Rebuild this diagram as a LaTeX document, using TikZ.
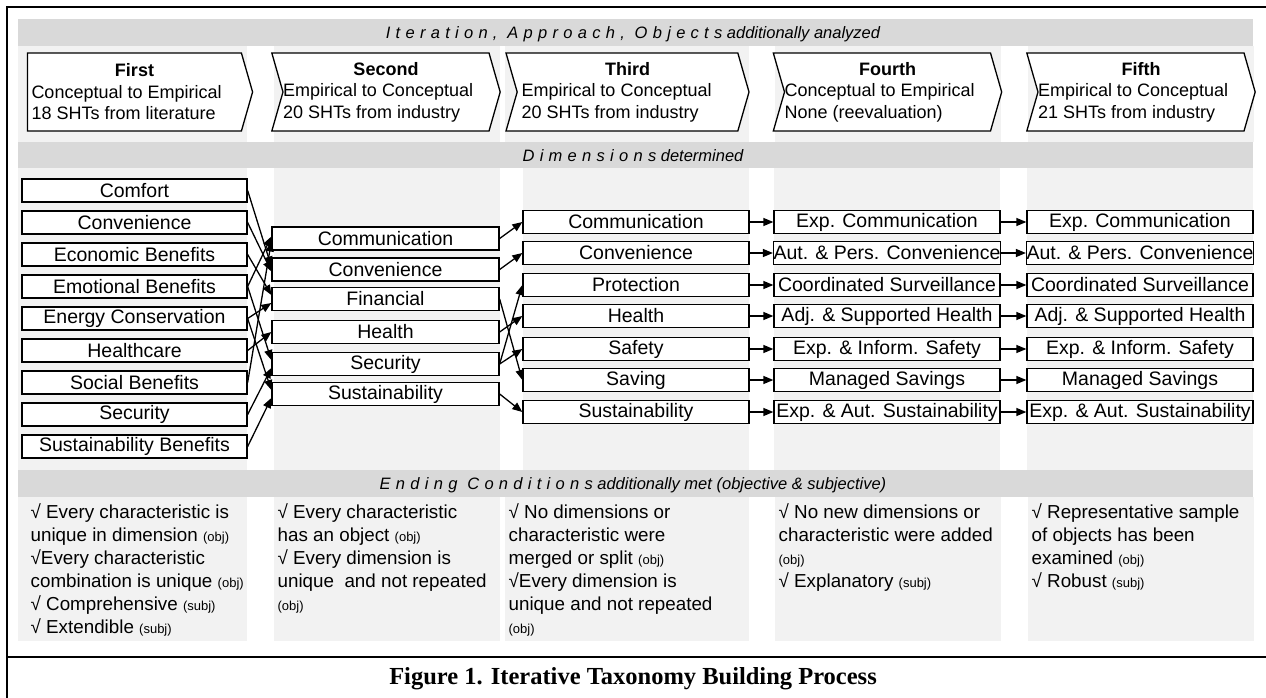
\documentclass[tikz,border=0pt]{standalone}
\usepackage{fontspec}
\setmainfont{Liberation Sans}
\newfontfamily\capfont{Liberation Serif}
\usetikzlibrary{arrows.meta,shapes.symbols}

\definecolor{bandgray}{HTML}{D9D9D9}
\definecolor{colgray}{HTML}{F2F2F2}
\newcommand{\crit}[1]{{\fontsize{13}{23}\selectfont #1}}
\newcommand{\spread}[1]{{\addfontfeature{LetterSpace=32}#1}}

\begin{document}
\begin{tikzpicture}[x = 1pt, y = -1pt, line width = 1.3pt,
		bandtxt/.style = {anchor = base, inner sep = 0pt,
			font = \fontsize{16.5}{18}\selectfont\itshape},
		chev/.style = {signal, draw, fill = white, signal to = east,
			signal pointer angle = 148, minimum width = 225,
			minimum height = 78, inner sep = 0pt, align = left,
			font = \fontsize{18}{21.5}\selectfont},
		dimbox/.style = {draw, fill = white, minimum width = 225,
			minimum height = 23, inner sep = 0pt,
			font = \fontsize{19.5}{20}\selectfont},
		crits/.style = {anchor = north west, inner sep = 0pt, align = left,
			font = \fontsize{18.8}{23}\selectfont},
		arr/.style = {-{Triangle[length = 10pt, width = 8pt]}}]

	\useasboundingbox (0,0) rectangle (1266,698);

	% bands and columns
	\fill[bandgray] (18,19) rectangle (1253,46);
	\fill[bandgray] (18,142) rectangle (1253,168);
	\fill[bandgray] (18,470) rectangle (1253,497);
	\foreach \a/\b in {18/247, 274/500, 505/749, 775/1001, 1028/1254}
	{
		\fill[colgray] (\a,46) rectangle (\b,142);
		\fill[colgray] (\a,497) rectangle (\b,641);
	}
	\foreach \a/\b in {18/247, 274/500, 523/749, 774/1000, 1027/1253}
		\fill[colgray] (\a,168) rectangle (\b,470);

	\node[bandtxt] (hdr) at (633,38.5)
		{\spread{Iteration, Approach, Objects} additionally analyzed};
	\node[bandtxt] (dimhdr) at (633,161)
		{\spread{Dimensions} determined};
	\node[bandtxt] (endhdr) at (633,489.5)
		{\spread{Ending Conditions} additionally met (objective \& subjective)};

	% iterations
	\node[chev] (it1) at (134.5,92) {\makebox[206pt]{\textbf{First}}\\
		Conceptual to Empirical\\18 SHTs from literature};
	\node[chev, signal from = west, minimum width = 226] (it2) at (386,92)
		{\makebox[206pt]{\textbf{Second}}\\Empirical to Conceptual\\20 SHTs from industry};
	\node[chev, signal from = west, minimum width = 243] (it3) at (627.5,92)
		{\makebox[212pt]{\textbf{Third}}\\Empirical to Conceptual\\20 SHTs from industry};
	\node[chev, signal from = west] (it4) at (887.5,92)
		{\makebox[206pt]{\textbf{Fourth}}\\Conceptual to Empirical\\None (reevaluation)};
	\node[chev, signal from = west, minimum width = 226] (it5) at (1141,92)
		{\makebox[206pt]{\textbf{Fifth}}\\Empirical to Conceptual\\21 SHTs from industry};

	% first iteration
	\node[dimbox] (d1com) at (134.5,190.5) {Comfort};
	\node[dimbox] (d1con) at (134.5,222.5) {Convenience};
	\node[dimbox] (d1eco) at (134.5,254.5) {Economic Benefits};
	\node[dimbox] (d1emo) at (134.5,286.5) {Emotional Benefits};
	\node[dimbox] (d1ene) at (134.5,318.5) {Energy Conservation};
	\node[dimbox] (d1hea) at (134.5,350.5) {Healthcare};
	\node[dimbox] (d1soc) at (134.5,382.5) {Social Benefits};
	\node[dimbox] (d1sec) at (134.5,414.5) {Security};
	\node[dimbox] (d1sus) at (134.5,446.5) {Sustainability Benefits};

	% second iteration
	\node[dimbox, minimum width = 227] (d2com) at (385.5,238.5) {Communication};
	\node[dimbox, minimum width = 227] (d2con) at (385.5,269.5) {Convenience};
	\node[dimbox, minimum width = 227] (d2fin) at (385.5,299) {Financial};
	\node[dimbox, minimum width = 227] (d2hea) at (385.5,332) {Health};
	\node[dimbox, minimum width = 227] (d2sec) at (385.5,364) {Security};
	\node[dimbox, minimum width = 227] (d2sus) at (385.5,394) {Sustainability};

	% third iteration
	\node[dimbox, minimum width = 226] (d3com) at (636,222) {Communication};
	\node[dimbox, minimum width = 226] (d3con) at (636,253) {Convenience};
	\node[dimbox, minimum width = 226] (d3pro) at (636,285) {Protection};
	\node[dimbox, minimum width = 226] (d3hea) at (636,316) {Health};
	\node[dimbox, minimum width = 226] (d3saf) at (636,349) {Safety};
	\node[dimbox, minimum width = 226] (d3sav) at (636,380) {Saving};
	\node[dimbox, minimum width = 226] (d3sus) at (636,412) {Sustainability};

	% fourth iteration
	\node[dimbox, minimum width = 226] (d4com) at (887,222) {Exp. Communication};
	\node[dimbox, minimum width = 226] (d4con) at (887,253) {Aut. \& Pers. Convenience};
	\node[dimbox, minimum width = 226] (d4pro) at (887,285) {Coordinated Surveillance};
	\node[dimbox, minimum width = 226] (d4hea) at (887,316) {Adj. \& Supported Health};
	\node[dimbox, minimum width = 226] (d4saf) at (887,349) {Exp. \& Inform. Safety};
	\node[dimbox, minimum width = 226] (d4sav) at (887,380) {Managed Savings};
	\node[dimbox, minimum width = 226] (d4sus) at (887,412) {Exp. \& Aut. Sustainability};

	% fifth iteration
	\node[dimbox, minimum width = 226] (d5com) at (1140,222) {Exp. Communication};
	\node[dimbox, minimum width = 226] (d5con) at (1140,253) {Aut. \& Pers. Convenience};
	\node[dimbox, minimum width = 226] (d5pro) at (1140,285) {Coordinated Surveillance};
	\node[dimbox, minimum width = 226] (d5hea) at (1140,316) {Adj. \& Supported Health};
	\node[dimbox, minimum width = 226] (d5saf) at (1140,349) {Exp. \& Inform. Safety};
	\node[dimbox, minimum width = 226] (d5sav) at (1140,380) {Managed Savings};
	\node[dimbox, minimum width = 226] (d5sus) at (1140,412) {Exp. \& Aut. Sustainability};

	\draw[arr] (d1com.east) -- ([yshift = 3]d2con.west);
	\draw[arr] (d1con.east) -- ([yshift = -2]d2con.west);
	\draw[arr] (d1eco.east) -- ([yshift = 4]d2fin.west);
	\draw[arr] (d1emo.east) -- ([yshift = 2]d2com.west);
	\draw[arr] (d1emo.east) -- ([yshift = 4]d2sec.west);
	\draw[arr] (d1ene.east) -- ([yshift = -4]d2fin.west);
	\draw[arr] (d1ene.east) -- ([yshift = 4]d2sus.west);
	\draw[arr] (d1hea.east) -- (d2hea.west);
	\draw[arr] (d1soc.east) -- ([yshift = -3]d2com.west);
	\draw[arr] (d1sec.east) -- ([yshift = -4]d2sec.west);
	\draw[arr] (d1sus.east) -- ([yshift = -4]d2sus.west);

	\draw[arr] (d2com.east) -- (d3com.west);
	\draw[arr] (d2con.east) -- (d3con.west);
	\draw[arr] (d2fin.east) -- (d3sav.west);
	\draw[arr] (d2hea.east) -- (d3hea.west);
	\draw[arr] (d2sec.east) -- (d3pro.west);
	\draw[arr] (d2sec.east) -- (d3saf.west);
	\draw[arr] (d2sus.east) -- (d3sus.west);

	\foreach \n in {com, con, pro, hea, saf, sav, sus}
	{
		\draw[arr] (d3\n.east) -- (d4\n.west);
		\draw[arr] (d4\n.east) -- (d5\n.west);
	}

	% ending conditions
	\node[crits] (ec1) at (30,503) {√ Every characteristic is\\
		unique in dimension \crit{(obj)}\\√Every characteristic\\
		combination is unique \crit{(obj)}\\√ Comprehensive \crit{(subj)}\\
		√ Extendible \crit{(subj)}};
	\node[crits] (ec2) at (277,503) {√ Every characteristic\\
		has an object \crit{(obj)}\\√ Every dimension is\\
		unique\ \ and not repeated\\\crit{(obj)}};
	\node[crits] (ec3) at (508,503) {√ No dimensions or\\characteristic were\\
		merged or split \crit{(obj)}\\√Every dimension is\\
		unique and not repeated\\\crit{(obj)}};
	\node[crits] (ec4) at (778,503) {√ No new dimensions or\\
		characteristic were added\\\crit{(obj)}\\√ Explanatory \crit{(subj)}};
	\node[crits] (ec5) at (1031,503) {√ Representative sample\\
		of objects has been\\examined \crit{(obj)}\\√ Robust \crit{(subj)}};

	% frame and caption
	\draw[line width = 2.5pt] (7,698) -- (7,7) -- (1266,7);
	\draw[line width = 2.5pt] (7,657) -- (1266,657);
	\node[font = \capfont\bfseries\fontsize{24.5}{28}\selectfont] (cap) at (633,679)
		{Figure 1. Iterative Taxonomy Building Process};
\end{tikzpicture}
\end{document}
